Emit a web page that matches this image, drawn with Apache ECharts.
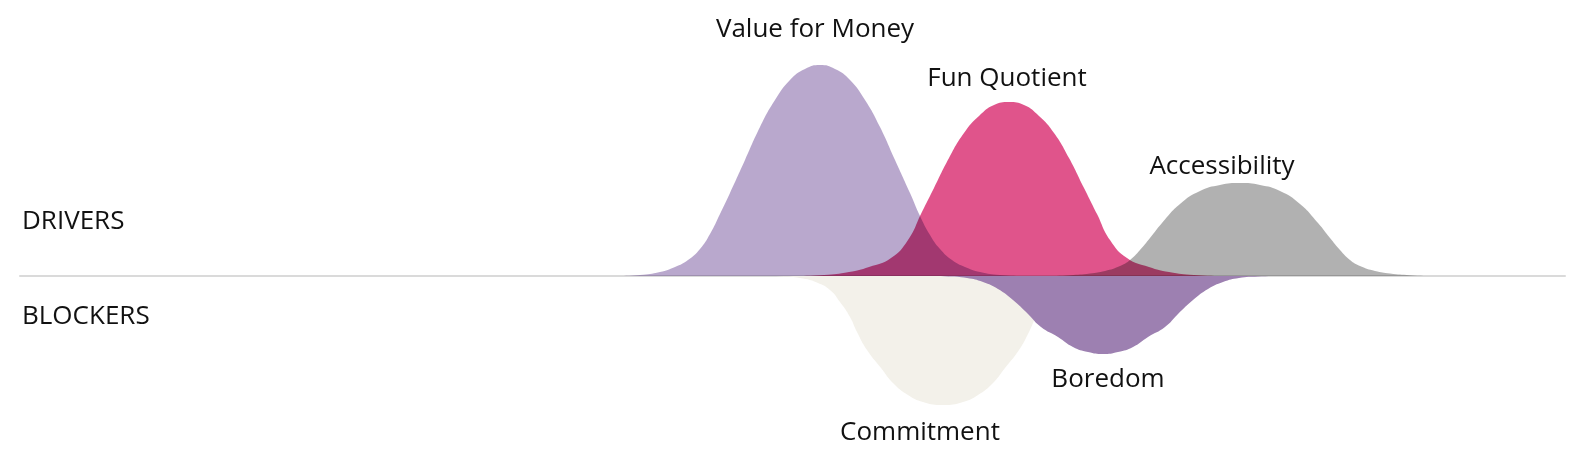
<!DOCTYPE html>
<html>
<head>
<meta charset="utf-8">
<script src="https://cdn.jsdelivr.net/npm/echarts@6/dist/echarts.min.js"></script>
<style>
  html, body { margin: 0; padding: 0; background: #fff; }
  #main { width: 1580px; height: 464px; }
</style>
</head>
<body>
<div id="main"></div>
<script>
// position along the scale, intensity (drivers up, blockers down)
var valueForMoney = [
  [620, 0], [640, 1], [660, 4], [675, 9], [688, 16], [700, 27], [710, 42], [720, 62],
  [730, 83], [745, 116], [760, 149], [775, 176], [790, 196], [805, 207], [820, 211],
  [835, 207], [850, 196], [865, 176], [880, 149], [895, 116], [910, 83], [920, 60],
  [930, 41], [940, 27], [952, 16], [965, 9], [980, 4], [1000, 1], [1020, 0]
];
var funQuotient = [
  [799, 0], [824, 1], [849, 4], [869, 9], [891, 18], [908, 36], [921, 62], [934, 88],
  [949, 118], [964, 143], [979, 160], [994, 171], [1009, 174], [1024, 171], [1039, 160],
  [1054, 143], [1069, 118], [1084, 88], [1097, 62], [1110, 36], [1127, 18], [1149, 9],
  [1169, 4], [1194, 1], [1219, 0]
];
var accessibility = [
  [1050, 0], [1070, 0.8], [1090, 2.5], [1105, 5], [1120, 10], [1130, 16], [1140, 26],
  [1150, 38], [1162, 53], [1180, 72], [1200, 85], [1220, 91], [1240, 93], [1260, 91],
  [1280, 85], [1300, 72], [1318, 53], [1330, 38], [1340, 26], [1350, 16], [1360, 10],
  [1375, 5], [1390, 2.5], [1410, 0.8], [1430, 0]
];
var commitment = [
  [763, 0], [783, -0.5], [803, -2.5], [818, -7], [830, -14], [840, -26], [850, -41],
  [857, -56], [867, -74], [881, -92], [893, -107], [908, -119], [923, -126], [943, -129],
  [963, -126], [978, -119], [993, -107], [1005, -92], [1019, -74], [1029, -56],
  [1036, -41], [1046, -26], [1056, -14], [1068, -7], [1083, -2.5], [1103, -0.5], [1123, 0]
];
var boredom = [
  [928, 0], [948, -0.5], [967, -2], [983, -6], [998, -13], [1013, -24], [1028, -38],
  [1041, -51], [1058, -61], [1073, -71], [1088, -76], [1103, -78], [1118, -76],
  [1133, -71], [1148, -61], [1165, -51], [1178, -38], [1193, -24], [1208, -13],
  [1223, -6], [1239, -2], [1258, -0.5], [1278, 0]
];

var seriesNames = ['Value for Money', 'Fun Quotient', 'Accessibility', 'Commitment', 'Boredom'];
var seriesData = [valueForMoney, funQuotient, accessibility, commitment, boredom];
var seriesColors = ['#b9a8cd', '#e0548b', '#b1b1b1', '#f3f1ea', '#9d80b1'];
// drivers overlap like ink; blockers simply stack
var seriesBlend = ['multiply', 'multiply', 'multiply', null, null];

// label anchor [x, y] in chart values
var labelPos = [[815, 246], [1007, 197], [1222, 109], [920, -157], [1108, -104]];
var sideLabels = ['DRIVERS', 'BLOCKERS'];
var sideLabelY = [54, -41];

var main = document.getElementById('main');
var myChart = echarts.init(main, null, { renderer: 'canvas' });

var series = seriesNames.map(function (name, i) {
  return {
    name: name,
    type: 'line',
    data: seriesData[i],
    smooth: 0.5,
    showSymbol: false,
    silent: true,
    lineStyle: { width: 0, opacity: 0 },
    areaStyle: { color: seriesColors[i], opacity: 1 },
    z: 2
  };
});

// text labels carried by an invisible scatter series so they sit on the same scales
series.push({
  type: 'scatter',
  silent: true,
  symbolSize: 1,
  itemStyle: { opacity: 0 },
  z: 10,
  data: seriesNames.map(function (name, i) {
    return { value: labelPos[i], label: { formatter: name } };
  }).concat(sideLabels.map(function (name, i) {
    return { value: [22, sideLabelY[i]], label: { formatter: name, align: 'left' } };
  })),
  label: {
    show: true, position: 'inside', align: 'center', verticalAlign: 'middle',
    color: '#111111', opacity: 1, fontFamily: 'Open Sans', fontSize: 26
  }
});

myChart.setOption({
  animation: false,
  backgroundColor: '#ffffff',
  grid: { left: 20, right: 15, top: 0, bottom: 0 },
  xAxis: {
    type: 'value', min: 20, max: 1565,
    axisLine: { show: true, onZero: true, lineStyle: { color: '#dadada', width: 2 } },
    axisTick: { show: false }, axisLabel: { show: false }, splitLine: { show: false }
  },
  yAxis: {
    type: 'value', min: -188, max: 276,
    axisLine: { show: false }, axisTick: { show: false },
    axisLabel: { show: false }, splitLine: { show: false }
  },
  series: series
});

function applyBlend() {
  var zr = myChart.getZr();
  zr.storage.getDisplayList(true).forEach(function (el) {
    var f = el.style && typeof el.style.fill === 'string' ? el.style.fill.toLowerCase() : '';
    var idx = seriesColors.indexOf(f);
    if (idx > -1 && seriesBlend[idx]) {
      el.style.blend = seriesBlend[idx];
      el.dirty();
    }
  });
  zr.refreshImmediately();
}
applyBlend();
</script>
</body>
</html>
